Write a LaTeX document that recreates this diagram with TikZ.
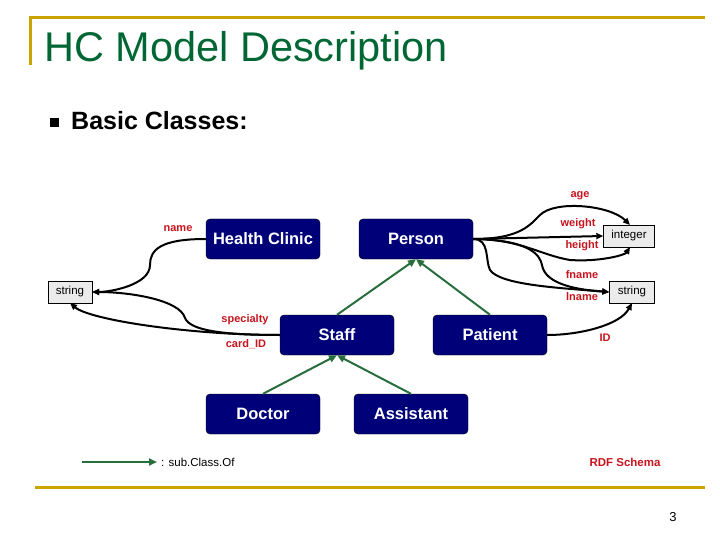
\documentclass[tikz,border=0pt]{standalone}
\usepackage{fontspec}
\setmainfont{Liberation Sans}
\usetikzlibrary{arrows.meta}
\definecolor{gold}{RGB}{204,164,0}
\definecolor{titlegreen}{RGB}{0,102,51}
\definecolor{navy}{RGB}{0,0,120}
\definecolor{lbl}{RGB}{200,20,30}
\definecolor{sub}{RGB}{40,110,60}
\begin{document}
\begin{tikzpicture}[x=1pt,y=-1pt,
 cls/.style={draw=black,fill=navy,rounded corners=4pt,text=white,font=\bfseries\fontsize{16.5}{20}\selectfont,minimum width=114pt,minimum height=40pt,inner sep=0pt},
 lit/.style={draw=black,fill=black!8,font=\fontsize{11.5}{14}\selectfont,minimum height=22pt,inner sep=2pt},
 lab/.style={text=lbl,font=\bfseries\fontsize{11}{13}\selectfont,inner sep=0pt},
 prop/.style={draw=black,line width=2pt,-{Triangle[length=7pt,width=6pt]}},
 isa/.style={draw=sub,line width=2pt,-{Triangle[length=8pt,width=7pt]}}]
\useasboundingbox (0,0) rectangle (720,540);
\draw[gold,line width=3pt] (30,65) -- (30,18) -- (705,18);
\draw[gold,line width=3pt] (35,487) -- (705,487);
\node[anchor=west,text=titlegreen,font=\fontsize{41.5}{46}\selectfont,inner sep=0pt] (title) at (44,51) {HC Model Description};
\node[fill=black,minimum size=9pt,inner sep=0pt] (bul) at (54,123) {};
\node[anchor=west,font=\bfseries\fontsize{25}{28}\selectfont,inner sep=0pt] (bc) at (71,121) {Basic Classes:};
\node[cls] (hc) at (263,239) {Health Clinic};
\node[cls] (person) at (416,239) {Person};
\node[cls] (staff) at (337,335) {Staff};
\node[cls] (patient) at (490,335) {Patient};
\node[cls] (doctor) at (263,414) {Doctor};
\node[cls] (assist) at (411,414) {Assistant};
\node[lit,minimum width=51pt] (int) at (629,236) {integer};
\node[lit,minimum width=45pt] (sR) at (632,292) {string};
\node[lit,minimum width=44pt] (sL) at (70,292) {string};
% properties
\draw[prop] (hc.west) .. controls (160,239) and (150,250) .. (150,265) .. controls (150,285) and (110,292) .. (sL.east);
\draw[prop] (staff.west) .. controls (220,335) and (190,330) .. (185,318) .. controls (180,300) and (130,292) .. (sL.east);
\draw[prop] (staff.west) .. controls (190,335) and (90,320) .. (70,303);
\draw[prop] (person.east) .. controls (520,239) and (530,225) .. (540,215) .. controls (555,200) and (610,205) .. (630,225);
\draw[prop] (person.east) -- (int.west);
\draw[prop] (person.east) .. controls (520,239) and (540,255) .. (570,260) .. controls (600,262) and (625,255) .. (630,247);
\draw[prop] (person.east) .. controls (530,240) and (540,255) .. (542,265) .. controls (545,285) and (580,290) .. (sR.west);
\draw[prop] (person.east) .. controls (490,239) and (485,260) .. (490,270) .. controls (500,285) and (560,288) .. (sR.west);
\draw[prop] (patient.east) .. controls (580,335) and (620,325) .. (632,303);
\node[lab] (lage) at (580,196) {age};
\node[lab] (lw) at (578,224) {weight};
\node[lab] (lh) at (582,246) {height};
\node[lab] (lf) at (582,275) {fname};
\node[lab] (ll) at (582,297) {lname};
\node[lab] (lid) at (605,338) {ID};
\node[lab] (lname) at (178,229) {name};
\node[lab] (lsp) at (245,320) {specialty};
\node[lab] (lcard) at (246,344) {card\_ID};
% subclass
\draw[isa] (staff.north) -- (person.south);
\draw[isa] (patient.north) -- (person.south);
\draw[isa] (doctor.north) -- (staff.south);
\draw[isa] (assist.north) -- (staff.south);
% legend
\coordinate (la) at (82,462);
\coordinate (lb) at (157,462);
\draw[isa] (la) -- (lb);
\node[anchor=west,font=\fontsize{11.5}{14}\selectfont,inner sep=0pt] (lt) at (161,462) {: sub.Class.Of};
\node[lab,font=\bfseries\fontsize{11.5}{14}\selectfont] (rdf) at (625,462) {RDF Schema};
\node[font=\fontsize{13}{15}\selectfont,inner sep=0pt] (pg) at (673,517) {3};
\end{tikzpicture}
\end{document}
